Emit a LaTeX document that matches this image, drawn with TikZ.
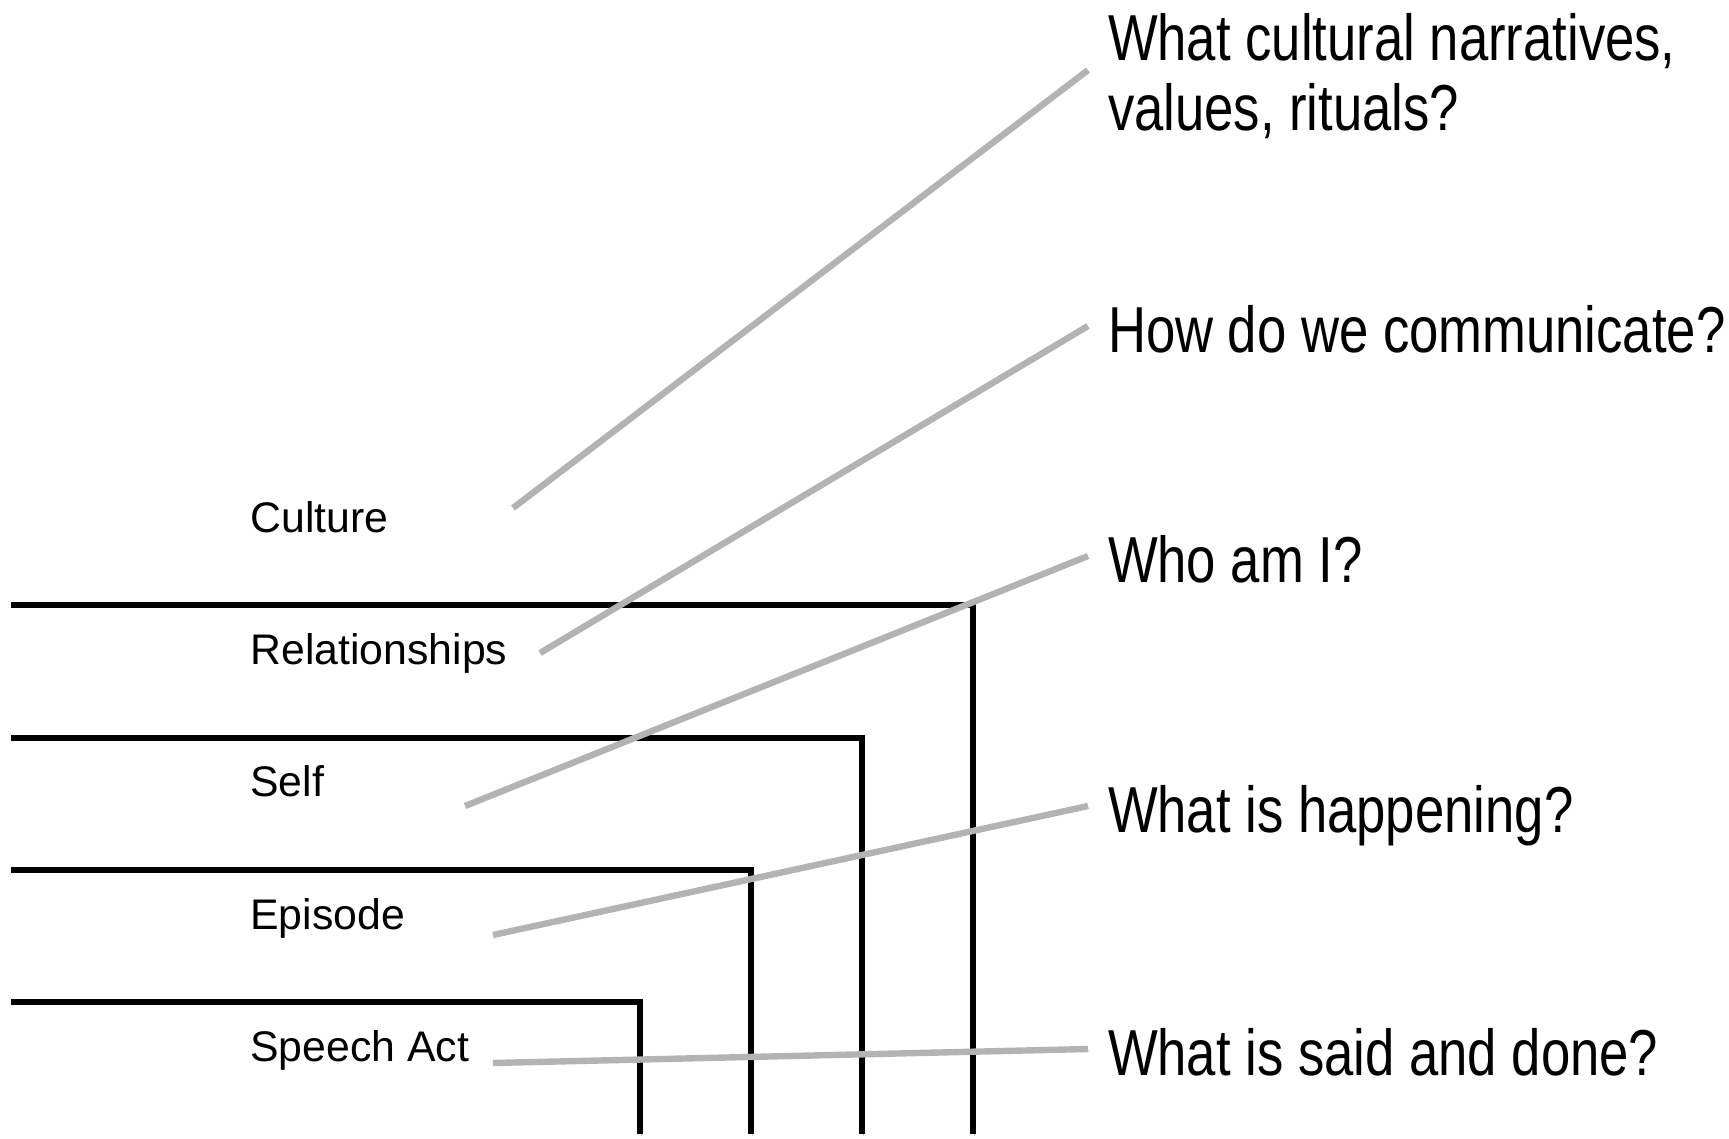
\documentclass[tikz,border=0pt]{standalone}
\usepackage{fontspec}
\setmainfont{Liberation Sans}
\newfontfamily\narrowsans{Liberation Sans}[FakeStretch=0.81]
\usepackage{xcolor}
\usetikzlibrary{positioning}
\definecolor{linkgray}{HTML}{B3B3B3}
\tikzset{
  level/.style={anchor=base west,inner sep=0pt,font=\fontsize{21.4}{25}\selectfont},
  question/.style={anchor=base west,inner sep=0pt,outer xsep=10pt,align=left,font=\narrowsans\fontsize{32.5}{35}\selectfont},
  qline/.style={question,text height=26pt,text depth=0pt},
  drop/.style={preaction={draw=black!22,transform canvas={xshift=0.7pt,yshift=-1pt}}},
  frame/.style={drop,line width=3pt,black},
  link/.style={drop,line width=3.2pt,linkgray},
}
\begin{document}
\begin{tikzpicture}[x=0.5pt,y=-0.5pt]
\useasboundingbox (0,0) rectangle (1729,1139);
% nested frames
\foreach \y/\x in {605/973,738/862,870/751,1002/640}{\draw[frame] (11,\y) -- (\x,\y) -- (\x,1134);}
% levels
\foreach \i/\y/\lab in {1/532/Culture,2/664/Relationships,3/796/Self,4/929/Episode,5/1061/Speech Act}{\node[level] (l\i) at (250,\y) {\lab};}
% questions
\node[question,anchor=north west] (q1) at (1088,13) {What cultural narratives,\\values, rituals?};
\foreach \i/\y/\lab in {2/352/How do we communicate?,3/582/Who am I?,4/832/What is happening?,5/1075/What is said and done?}{\node[qline] (q\i) at (1088,\y) {\lab};}
% links
\coordinate (s1) at (513,508);
\coordinate (s2) at (540,653);
\coordinate (s3) at (465,806);
\coordinate (s4) at (493,935);
\coordinate (s5) at (493,1063);
\draw[link] (s1) -- ([yshift=3pt]q1.west);
\foreach \i in {2,...,5}{\draw[link] (s\i) -- (q\i.west);}
\end{tikzpicture}
\end{document}
